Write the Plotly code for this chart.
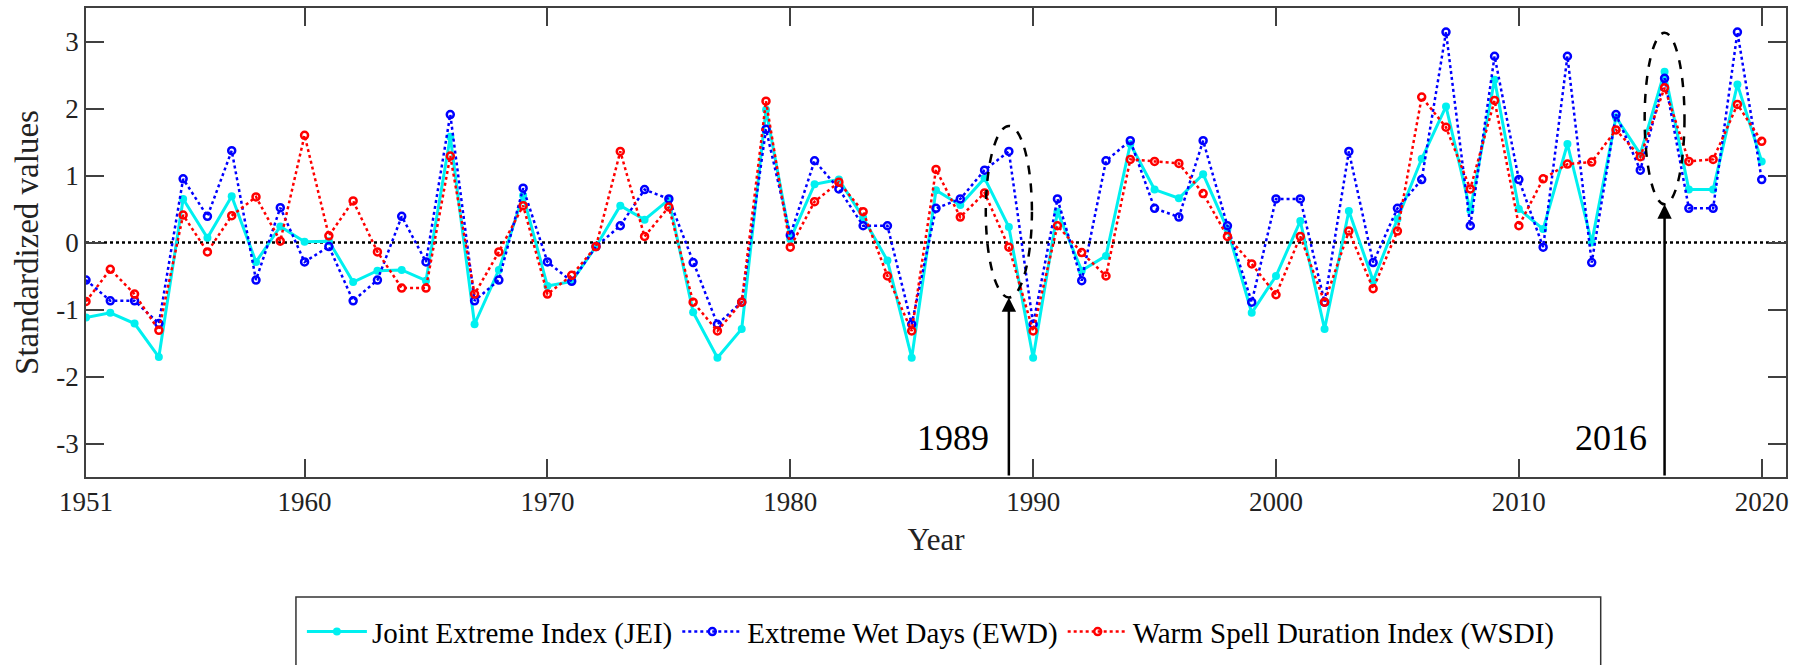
import plotly.graph_objects as go

years = list(range(1951, 2021))

jei = [-1.12, -1.05, -1.21, -1.71, 0.65, 0.07, 0.69, -0.29, 0.24, 0.01,
       0.02, -0.59, -0.42, -0.41, -0.57, 1.58, -1.22, -0.41, 0.70, -0.65,
       -0.58, -0.06, 0.55, 0.34, 0.64, -1.04, -1.72, -1.29, 1.98, 0.05,
       0.87, 0.94, 0.37, -0.27, -1.72, 0.78, 0.56, 0.96, 0.23, -1.72,
       0.46, -0.42, -0.20, 1.47, 0.79, 0.66, 1.02, 0.20, -1.05, -0.50,
       0.32, -1.29, 0.47, -0.57, 0.35, 1.25, 2.03, 0.48, 2.43, 0.50,
       0.20, 1.47, 0.00, 1.87, 1.32, 2.55, 0.79, 0.79, 2.36, 1.21]

ewd = [-0.56, -0.87, -0.87, -1.21, 0.95, 0.39, 1.37, -0.56, 0.52, -0.29,
       -0.06, -0.87, -0.56, 0.39, -0.29, 1.91, -0.87, -0.56, 0.81, -0.29,
       -0.58, -0.06, 0.25, 0.79, 0.65, -0.30, -1.22, -0.89, 1.69, 0.11,
       1.22, 0.80, 0.25, 0.25, -1.22, 0.51, 0.65, 1.08, 1.36, -1.22,
       0.65, -0.57, 1.22, 1.52, 0.51, 0.38, 1.52, 0.25, -0.89, 0.65,
       0.65, -0.89, 1.36, -0.30, 0.51, 0.94, 3.14, 0.25, 2.78, 0.94,
       -0.07, 2.78, -0.30, 1.91, 1.08, 2.45, 0.51, 0.51, 3.14, 0.94]

wsdi = [-0.88, -0.40, -0.77, -1.31, 0.41, -0.14, 0.40, 0.68, 0.02, 1.60,
        0.10, 0.62, -0.14, -0.68, -0.68, 1.29, -0.77, -0.14, 0.55, -0.77,
        -0.49, -0.06, 1.36, 0.09, 0.53, -0.89, -1.32, -0.89, 2.11, -0.07,
        0.61, 0.90, 0.46, -0.50, -1.32, 1.09, 0.38, 0.74, -0.07, -1.32,
        0.25, -0.15, -0.50, 1.24, 1.21, 1.18, 0.73, 0.09, -0.32, -0.78,
        0.09, -0.89, 0.17, -0.69, 0.17, 2.17, 1.72, 0.80, 2.12, 0.25,
        0.95, 1.17, 1.20, 1.68, 1.28, 2.31, 1.21, 1.24, 2.06, 1.51]

names = ["Joint Extreme Index (JEI)", "Extreme Wet Days (EWD)",
         "Warm Spell Duration Index (WSDI)"]

x_ticks = [1951, 1960, 1970, 1980, 1990, 2000, 2010, 2020]
y_ticks = [-3, -2, -1, 0, 1, 2, 3]

events = [1989, 2016]
ellipse_y = [(-0.82, 1.74), (0.57, 3.13)]
ellipse_halfw = [0.95, 0.82]
label_x = [1986.7, 2013.8]
label_y = -2.92

FONT = "Liberation Serif"

fig = go.Figure()
fig.add_trace(go.Scatter(
    x=years, y=jei, name=names[0], mode="lines+markers",
    line=dict(color="#00F0F0", width=3),
    marker=dict(symbol="circle", size=8, color="#00F0F0")))
fig.add_trace(go.Scatter(
    x=years, y=ewd, name=names[1], mode="lines+markers",
    line=dict(color="#0000FF", width=2.5, dash="dot"),
    marker=dict(symbol="circle-open", size=7, color="#0000FF",
                line=dict(width=2.5, color="#0000FF"))))
fig.add_trace(go.Scatter(
    x=years, y=wsdi, name=names[2], mode="lines+markers",
    line=dict(color="#FF0000", width=2.5, dash="dot"),
    marker=dict(symbol="circle-open", size=7, color="#FF0000",
                line=dict(width=2.5, color="#FF0000"))))

shapes = []
# zero reference line
shapes.append(dict(type="line", xref="paper", yref="y", x0=0, x1=1, y0=0, y1=0,
                   line=dict(color="black", width=2.5, dash="dot"), layer="below"))
for ev, (ya, yb), hw in zip(events, ellipse_y, ellipse_halfw):
    shapes.append(dict(type="circle", xref="x", yref="y",
                       x0=ev - hw, x1=ev + hw, y0=ya, y1=yb,
                       line=dict(color="black", width=2.5, dash="dash")))
# legend box
shapes.append(dict(type="rect", xref="paper", yref="paper",
                   x0=0.1235, x1=0.891, y0=-0.45, y1=-0.2559,
                   line=dict(color="#333333", width=1.5), fillcolor="rgba(0,0,0,0)"))

annotations = []
for ev, (ya, yb), lx in zip(events, ellipse_y, label_x):
    annotations.append(dict(x=ev, y=ya, ax=ev, ay=-3.5, xref="x", yref="y",
                            axref="x", ayref="y", text="", showarrow=True,
                            arrowhead=2, arrowsize=1.15, arrowwidth=2.5,
                            arrowcolor="black", standoff=0))
    annotations.append(dict(x=lx, y=label_y, xref="x", yref="y", text=str(ev),
                            showarrow=False, font=dict(family=FONT, size=36, color="black")))

fig.update_layout(
    width=1813, height=665,
    margin=dict(l=86, r=27, t=8, b=188, autoexpand=False),
    paper_bgcolor="white", plot_bgcolor="white",
    font=dict(family=FONT, color="black"),
    shapes=shapes, annotations=annotations,
    showlegend=True,
    legend=dict(orientation="h", x=0.127, xanchor="left", y=-0.330, yanchor="middle",
                font=dict(family=FONT, size=29, color="black"),
                bgcolor="rgba(0,0,0,0)", borderwidth=0,
                itemwidth=60, traceorder="normal"),
    xaxis=dict(range=[1951, 2021], tickmode="array", tickvals=x_ticks,
               ticktext=[str(v) for v in x_ticks],
               ticks="inside", ticklen=18, tickwidth=1.5, tickcolor="#404040",
               showline=True, linecolor="#404040", linewidth=1.5, mirror="ticks",
               showgrid=False, zeroline=False,
               tickfont=dict(family=FONT, size=27, color="#222"),
               title=dict(text="Year", font=dict(family=FONT, size=31, color="#222"), standoff=12)),
    yaxis=dict(range=[-3.5, 3.5], tickmode="array", tickvals=y_ticks,
               ticktext=[str(v) for v in y_ticks],
               ticks="inside", ticklen=18, tickwidth=1.5, tickcolor="#404040",
               showline=True, linecolor="#404040", linewidth=1.5, mirror="ticks",
               showgrid=False, zeroline=False,
               tickfont=dict(family=FONT, size=27, color="#222"),
               title=dict(text="Standardized values", font=dict(family=FONT, size=33, color="#222"), standoff=8)),
)

fig.write_html("out.html")
